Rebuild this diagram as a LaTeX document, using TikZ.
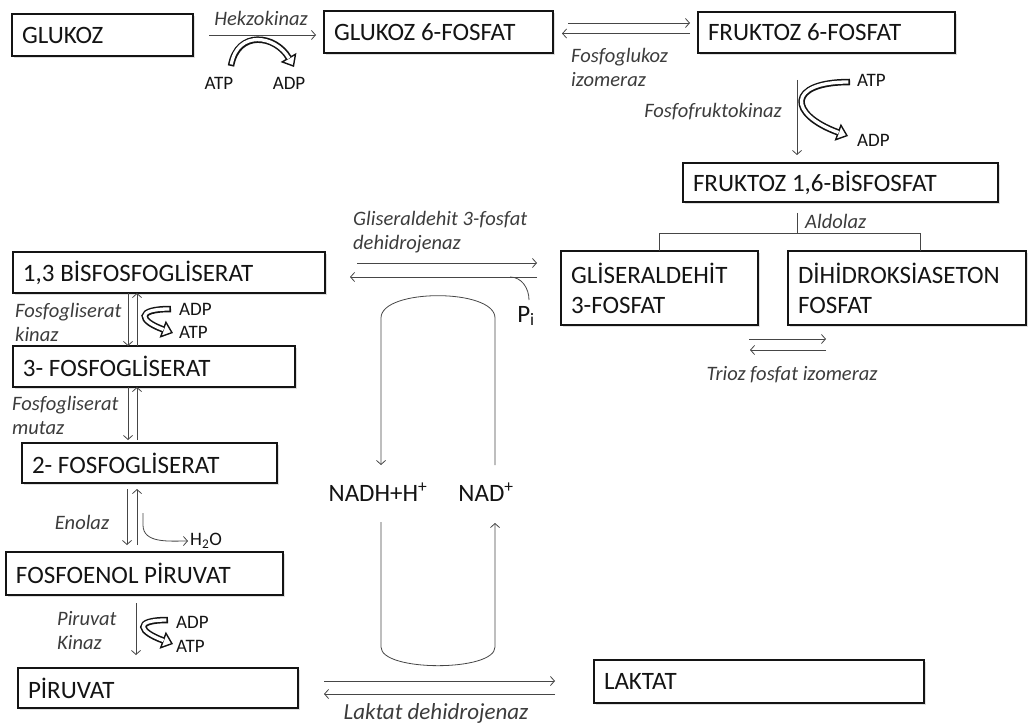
\documentclass[tikz,border=0pt]{standalone}
\usepackage{fontspec}
\setmainfont{Carlito}
\usepackage{tikz}
\usetikzlibrary{arrows.meta,shadows}
\definecolor{ink}{RGB}{20,20,20}
\definecolor{lab}{RGB}{60,60,60}
\definecolor{linegray}{RGB}{70,70,70}

\begin{document}
\begin{tikzpicture}[x=1pt, y=1pt,
  tight/.style={execute at begin node={\spaceskip=0pt\xspaceskip=0pt}},
  box/.style={draw=ink, line width=2.6pt, fill=white, anchor=north west, outer sep=0pt,
    inner xsep=10pt, inner ysep=0pt, align=left, tight, text=ink, font=\fontsize{25}{30}\selectfont,
    drop shadow={shadow xshift=2pt, shadow yshift=-2pt, opacity=0.25}},
  lbl/.style={inner sep=0pt, text=lab, align=left, tight, font=\fontsize{20.5}{24}\selectfont\itshape},
  mol/.style={inner sep=0pt, text=ink, font=\fontsize{19}{22}\selectfont},
  cof/.style={inner sep=0pt, text=ink, font=\fontsize{25}{30}\selectfont},
  bond/.style={draw=linegray, line width=0.8pt},
  rxn/.style={bond, -{Straight Barb[length=4pt, width=9pt]}},
  band/.style={draw=ink, line width=6.5pt, -{Triangle[fill=white, length=11pt, width=18pt, line width=1.4pt]},
    postaction={draw=white, line width=3.3pt, -, shorten >=10pt, shorten <=1.6pt}}]
  \useasboundingbox (0,0) rectangle (1030,-727);
  % metabolites
  \node[box, text width=161pt, minimum height=42pt] (glukoz) at (12,-14) {GLUKOZ};
  \node[box, text width=209pt, minimum height=42pt] (g6p) at (324,-11) {GLUKOZ 6-FOSFAT};
  \node[box, text width=237pt, minimum height=41pt] (f6p) at (698,-12) {FRUKTOZ 6-FOSFAT};
  \node[box, text width=295pt, minimum height=39pt] (f16bp) at (683,-163) {FRUKTOZ 1,6-BİSFOSFAT};
  \node[box, text width=177pt, minimum height=74pt] (gap) at (561,-251) {GLİSERALDEHİT\\3-FOSFAT};
  \node[box, text width=218pt, minimum height=74pt] (dhap) at (788,-251) {DİHİDROKSİASETON\\FOSFAT};
  \node[box, text width=292pt, minimum height=41pt] (bpg13) at (13,-252) {1,3 BİSFOSFOGLİSERAT};
  \node[box, text width=262pt, minimum height=41pt] (pg3) at (13,-346) {3- FOSFOGLİSERAT};
  \node[box, text width=235pt, minimum height=40pt] (pg2) at (22,-443) {2- FOSFOGLİSERAT};
  \node[box, text width=257pt, minimum height=43pt] (pep) at (6,-552) {FOSFOENOL PİRUVAT};
  \node[box, text width=260pt, minimum height=40pt] (piruvat) at (18,-668) {PİRUVAT};
  \node[box, text width=310pt, minimum height=43pt] (laktat) at (594,-660) {LAKTAT};
  % enzymes and cofactors
  \node[lbl] (hekzo) at (261,-18) {Hekzokinaz};
  \node[mol] (atp0) at (219,-83) {ATP};
  \node[mol] (adp0) at (289,-83) {ADP};
  \node[lbl, anchor=west] (pgi) at (571,-67) {Fosfoglukoz\\izomeraz};
  \node[lbl, anchor=east] (pfk) at (782,-112) {Fosfofruktokinaz};
  \node[mol, anchor=west] (atp1) at (857,-80) {ATP};
  \node[mol, anchor=west] (adp1) at (857,-140) {ADP};
  \node[lbl, anchor=west] (aldo) at (805,-221) {Aldolaz};
  \node[lbl] (tpi) at (792,-375) {Trioz fosfat izomeraz};
  \node[lbl, anchor=west] (gapdh) at (353,-232) {Gliseraldehit 3-fosfat\\dehidrojenaz};
  \node[cof] (pi) at (526,-316) {P\textsubscript{i}};
  \node[cof] (nadh) at (378,-492) {NADH+H\textsuperscript{+}};
  \node[cof] (nad) at (486,-492) {NAD\textsuperscript{+}};
  \node[lbl, anchor=west] (pgk) at (15,-322) {Fosfogliserat\\kinaz};
  \node[mol, anchor=west] (adp2) at (179,-309) {ADP};
  \node[mol, anchor=west] (atp2) at (179,-332) {ATP};
  \node[lbl, anchor=west] (pgm) at (12,-415) {Fosfogliserat\\mutaz};
  \node[lbl] (eno) at (82,-522) {Enolaz};
  \node[mol, anchor=west] (h2o) at (190,-541) {H\textsubscript{2}O};
  \node[lbl, anchor=west] (pk) at (57,-631) {Piruvat\\Kinaz};
  \node[mol, anchor=west] (adp3) at (176,-622) {ADP};
  \node[mol, anchor=west] (atp3) at (176,-646) {ATP};
  \node[lbl, font=\fontsize{23}{26}\selectfont\itshape] (ldh) at (436,-713) {Laktat dehidrojenaz};
  % upper row
  \draw[rxn] ([xshift=16pt]glukoz.east) -- ([xshift=-8pt]g6p.west |- glukoz.east);
  \draw[band] ([xshift=12pt,yshift=17pt]atp0.center) to[out=80, in=120, looseness=1.5] ([xshift=5pt,yshift=16pt]adp0.center);
  \draw[rxn] ([xshift=15pt,yshift=9pt]g6p.east) -- ([xshift=-8pt,yshift=9pt]g6p.east -| f6p.west);
  \draw[rxn] ([xshift=-8pt,yshift=-1pt]f6p.west) -- ([xshift=9pt,yshift=-1pt]f6p.west -| g6p.east);
  \draw[rxn] ([xshift=-29.5pt,yshift=-27pt]f6p.south) -- ([xshift=-29.5pt,yshift=8pt]f6p.south |- f16bp.north);
  \draw[band] ([xshift=-7pt,yshift=-2pt]atp1.west) to[out=180, in=160, looseness=3] ([xshift=-9pt,yshift=4pt]adp1.west);
  % aldolase split
  \draw[bond] ([xshift=-43.5pt,yshift=-11pt]f16bp.south) -- ++(0,-20);
  \draw[bond] (gap.north) -- ++(0,18) -| ([xshift=13pt]dhap.north);
  \draw[rxn] ([xshift=-9pt,yshift=-14pt]gap.south east) -- ([xshift=38pt,yshift=-14pt]dhap.south west);
  \draw[rxn] ([xshift=38pt,yshift=-25pt]dhap.south west) -- ([xshift=-8pt,yshift=-25pt]gap.south east);
  % GAP dehydrogenase
  \draw[rxn] ([xshift=32pt,yshift=9.5pt]bpg13.east) -- ([xshift=-24pt,yshift=9.5pt]bpg13.east -| gap.west);
  \draw[rxn] ([xshift=-24pt,yshift=11pt]gap.west) -- coordinate[pos=0.144] (pistart) ([xshift=25pt,yshift=11pt]gap.west -| bpg13.east);
  \draw[bond] (pistart) to[out=0, in=90] ([xshift=3pt,yshift=16pt]pi.center);
  % NAD loop
  \draw[rxn] ([xshift=9pt,yshift=27pt]nad.center) -- ++(0,147) to[out=90, in=90, looseness=0.67] ++(-114,0) -- ([xshift=3pt,yshift=27pt]nadh.center);
  \draw[rxn] ([xshift=3pt,yshift=-30pt]nadh.center) -- ++(0,-125) to[out=-90, in=-90, looseness=0.56] ++(114,0) -- ([xshift=9pt,yshift=-31pt]nad.center);
  % lower column
  \draw[rxn] ([xshift=-41pt]bpg13.south) -- ([xshift=-41pt]bpg13.south |- pg3.north);
  \draw[rxn] ([xshift=-32pt]bpg13.south |- pg3.north) -- ([xshift=-32pt]bpg13.south);
  \draw[band] ([xshift=-8pt]adp2.west) to[out=180, in=160, looseness=3.8] ([xshift=-6pt,yshift=-1pt]atp2.west);
  \draw[rxn] ([xshift=-26pt]pg3.south) -- ([xshift=-26pt,yshift=3pt]pg3.south |- pg2.north);
  \draw[rxn] ([xshift=-17pt,yshift=3pt]pg3.south |- pg2.north) -- ([xshift=-17pt]pg3.south);
  \draw[rxn] ([xshift=-22.5pt,yshift=-6pt]pg2.south) -- ([xshift=-22.5pt,yshift=7pt]pg2.south |- pep.north);
  \draw[rxn] ([xshift=-12.5pt,yshift=7pt]pg2.south |- pep.north) -- ([xshift=-12.5pt,yshift=-6pt]pg2.south);
  \draw[rxn] ([xshift=-6.5pt,yshift=-30pt]pg2.south) -- ++(0,-12) to[out=-90, in=180] ([xshift=-2pt]h2o.west);
  \draw[rxn] ([xshift=-8.5pt,yshift=-8pt]pep.south) -- ([xshift=-8.5pt,yshift=13pt]pep.south |- piruvat.north);
  \draw[band] ([xshift=-8pt,yshift=2pt]adp3.west) to[out=180, in=160, looseness=3.7] ([xshift=-3pt,yshift=2pt]atp3.west);
  % lactate dehydrogenase
  \draw[rxn] ([xshift=26pt,yshift=7pt]piruvat.east) -- ([xshift=-39pt,yshift=7pt]piruvat.east -| laktat.west);
  \draw[rxn] ([xshift=-39pt,yshift=-6pt]piruvat.east -| laktat.west) -- ([xshift=26pt,yshift=-6pt]piruvat.east);
\end{tikzpicture}
\end{document}
